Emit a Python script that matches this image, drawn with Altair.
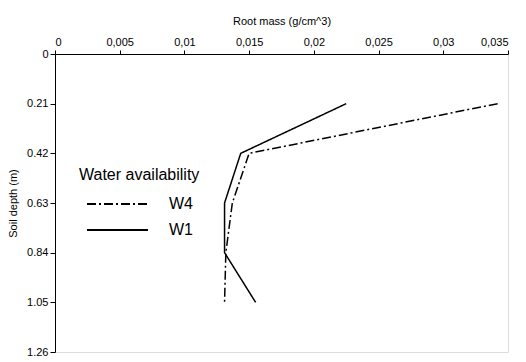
import altair as alt
import pandas as pd

depth = [0.21, 0.42, 0.63, 0.84, 1.05]
w1 = [0.0225, 0.01435, 0.0131, 0.0131, 0.0155]
w4 = [0.0342, 0.0150, 0.0137, 0.0132, 0.0131]
series = ["W4", "W1"]

rows = []
for d, v in zip(depth, w4):
    rows.append({"depth": d, "mass": v, "series": "W4"})
for d, v in zip(depth, w1):
    rows.append({"depth": d, "mass": v, "series": "W1"})
df = pd.DataFrame(rows)

font = "Liberation Sans"

chart = alt.Chart(df).mark_line(color="black", strokeWidth=1.5).encode(
    x=alt.X("mass:Q",
            scale=alt.Scale(domain=[0, 0.035], nice=False, zero=True),
            axis=alt.Axis(orient="top", title="Root mass (g/cm^3)",
                          values=[0, 0.005, 0.01, 0.015, 0.02, 0.025, 0.03, 0.035],
                          format=".3~f",
                          labelExpr="replace(datum.label, '.', ',')",
                          grid=False, tickSize=4, labelPadding=3,
                          titlePadding=10, domainColor="black", tickColor="black",
                          labelColor="black", titleColor="black",
                          labelFontSize=11, titleFontSize=11,
                          titleFontWeight="normal", labelFont=font, titleFont=font)),
    y=alt.Y("depth:Q",
            scale=alt.Scale(domain=[0, 1.26], reverse=True, nice=False),
            axis=alt.Axis(title="Soil depth (m)",
                          values=[0, 0.21, 0.42, 0.63, 0.84, 1.05, 1.26],
                          format=".2~f", grid=False, tickSize=5, labelPadding=2,
                          titlePadding=8, domainColor="black", tickColor="black",
                          labelColor="black", titleColor="black",
                          labelFontSize=11, titleFontSize=11,
                          titleFontWeight="normal", labelFont=font, titleFont=font)),
    strokeDash=alt.StrokeDash("series:N",
                              scale=alt.Scale(domain=series, range=[[9, 3, 2, 3], [1, 0]]),
                              legend=alt.Legend(title="Water availability",
                                                orient="none", legendX=24, legendY=113,
                                                symbolType="M0,0H10.17", symbolSize=144,
                                                symbolStrokeWidth=2, symbolStrokeColor="black",
                                                labelFontSize=16, titleFontSize=16,
                                                titleFontWeight="normal",
                                                labelFont=font, titleFont=font,
                                                labelColor="black", titleColor="black",
                                                labelOffset=74, rowPadding=10,
                                                titlePadding=13)),
    order="depth:Q",
).properties(
    width=453, height=298,
    padding={"left": 47, "top": 46, "right": 10, "bottom": 8},
    autosize=alt.AutoSizeParams(type="none"),
).configure_view(stroke=None).configure(background="white")

chart.save("out.html", embed_options={"renderer": "svg", "actions": False})
